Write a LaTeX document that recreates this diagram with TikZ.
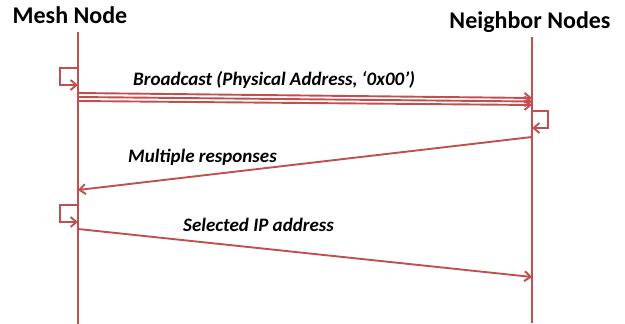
\documentclass[tikz,border=0pt]{standalone}
\usepackage{fontspec}
\setmainfont{Carlito}
\usetikzlibrary{arrows.meta}
\definecolor{msgred}{HTML}{C0504D}
\tikzset{
  lifeline/.style={draw=msgred, line width=2.4pt},
  msg/.style={draw=msgred, line width=1.9pt, -{Straight Barb[length=6pt,width=10pt,line width=1.9pt]}},
  title/.style={font=\fontsize{24}{26}\selectfont\bfseries, text=black, inner sep=0pt},
  lbl/.style={font=\fontsize{19}{21}\selectfont\bfseries\itshape, text=black, inner sep=0pt}
}
\begin{document}
\begin{tikzpicture}[x=1pt,y=-1pt]
  \useasboundingbox (0,0) rectangle (625,324);
  % participants
  \node[title] (mesh) at (70,15) {Mesh Node};
  \node[title] (nbr) at (530,22) {Neighbor Nodes};
  \coordinate (mTop) at (78,32);
  \coordinate (mBot) at (78,324);
  \coordinate (nTop) at (532,37);
  \coordinate (nBot) at (532,323);
  \draw[lifeline] (mTop) -- (mBot);
  \draw[lifeline] (nTop) -- (nBot);
  % self-loop before broadcast
  \coordinate (l1a) at (78,68);
  \coordinate (l1b) at (78,85);
  \draw[msg] (l1a) -- ++(-18,0) |- (l1b);
  % broadcast bundle
  \coordinate (b1s) at (78,93);  \coordinate (b1e) at (532,98);
  \coordinate (b2s) at (78,97);  \coordinate (b2e) at (532,101.5);
  \coordinate (b3s) at (78,101); \coordinate (b3e) at (532,105);
  \draw[msg] (b1s) -- (b1e);
  \draw[msg] (b2s) -- (b2e);
  \draw[msg] (b3s) -- (b3e);
  \node[lbl, anchor=west] (bl) at (133,80) {Broadcast (Physical Address, ‘0x00’)};
  % neighbour self-loop
  \coordinate (l2a) at (532,111);
  \coordinate (l2b) at (532,128);
  \draw[msg] (l2a) -- ++(16,0) |- (l2b);
  % responses
  \coordinate (rs) at (532,137);
  \coordinate (re) at (78,190);
  \draw[msg] (rs) -- (re);
  \node[lbl, anchor=west] (rl) at (128,157) {Multiple responses};
  % self-loop before selection
  \coordinate (l3a) at (78,205);
  \coordinate (l3b) at (78,222);
  \draw[msg] (l3a) -- ++(-18,0) |- (l3b);
  % selected address
  \coordinate (ss) at (78,229);
  \coordinate (se) at (532,277);
  \draw[msg] (ss) -- (se);
  \node[lbl, anchor=west] (sl) at (183,225) {Selected IP address};
\end{tikzpicture}
\end{document}
